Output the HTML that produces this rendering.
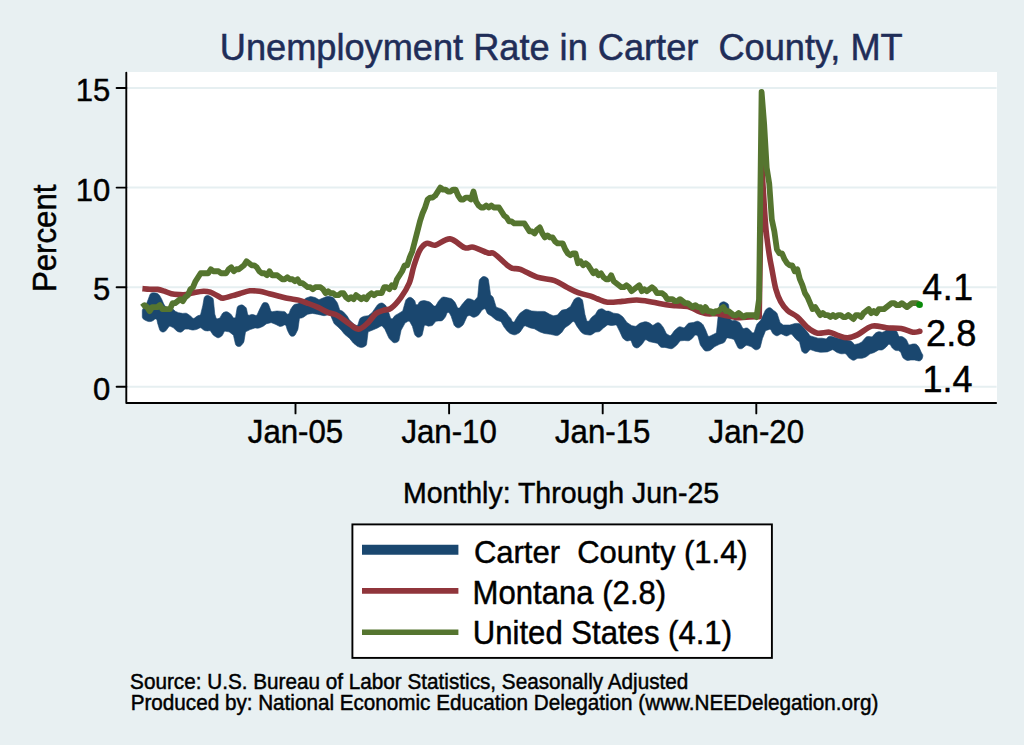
<!DOCTYPE html>
<html><head><meta charset="utf-8"><style>
html,body{margin:0;padding:0;background:#e8f0f2;overflow:hidden;}
svg{display:block;font-family:"Liberation Sans",sans-serif;}
</style></head><body>
<svg width="1024" height="745" viewBox="0 0 1024 745">
<rect x="0" y="0" width="1024" height="745" fill="#e8f0f2"/>
<rect x="126.5" y="72" width="870.5" height="331" fill="#fff"/>
<line x1="127" x2="996.6" y1="386.80" y2="386.80" stroke="#e6eff1" stroke-width="2"/>
<line x1="127" x2="996.6" y1="287.20" y2="287.20" stroke="#e6eff1" stroke-width="2"/>
<line x1="127" x2="996.6" y1="187.60" y2="187.60" stroke="#e6eff1" stroke-width="2"/>
<line x1="127" x2="996.6" y1="88.00" y2="88.00" stroke="#e6eff1" stroke-width="2"/>
<polygon fill="#1a476f" stroke="#1a476f" stroke-width="0.6" stroke-linejoin="round" points="143.11,308.59 143.03,308.70 142.57,309.46 142.47,309.71 142.31,310.58 142.30,310.72 142.30,316.69 142.31,316.82 142.46,317.66 142.55,317.90 142.94,318.58 143.11,318.78 143.76,319.32 143.87,319.40 145.67,320.43 145.70,320.44 145.91,320.55 145.94,320.56 147.53,321.29 147.68,321.34 148.78,321.58 148.94,321.60 149.92,321.60 150.05,321.59 150.92,321.44 151.05,321.41 152.64,320.84 152.84,320.74 154.05,319.84 154.21,319.69 154.32,319.54 154.74,319.16 155.28,318.96 155.86,318.98 156.38,319.21 156.78,319.63 156.99,320.16 157.47,322.62 157.47,322.66 157.54,322.94 157.55,322.98 159.58,329.57 159.63,329.68 159.98,330.39 160.12,330.59 160.69,331.15 160.78,331.23 161.20,331.52 161.33,331.60 162.25,332.00 162.54,332.06 163.46,332.06 163.75,332.00 164.67,331.60 164.80,331.52 165.61,330.95 165.71,330.86 166.36,330.20 166.44,330.10 168.62,326.91 169.11,326.45 169.76,326.25 170.42,326.36 172.92,327.39 173.41,327.71 176.51,330.81 176.65,330.92 177.73,331.57 177.90,331.65 179.32,332.08 179.44,332.11 180.27,332.21 180.52,332.20 181.27,332.04 181.50,331.94 182.21,331.50 182.31,331.42 184.47,329.48 184.94,329.20 185.47,329.10 188.59,329.10 189.00,329.16 191.95,329.99 192.12,330.02 193.29,330.07 193.46,330.06 196.10,329.59 196.21,329.56 196.95,329.31 197.05,329.27 199.64,327.94 200.19,327.78 200.75,327.84 201.26,328.10 203.63,329.99 203.81,330.09 205.17,330.65 205.38,330.70 207.46,330.91 207.64,330.91 208.91,330.73 209.03,330.69 209.65,330.66 210.23,330.87 210.67,331.31 212.82,334.53 212.91,334.64 213.66,335.38 213.78,335.48 216.47,337.23 216.59,337.30 217.43,337.64 217.70,337.70 218.53,337.72 218.80,337.67 219.65,337.36 219.77,337.30 221.26,336.40 221.42,336.27 222.42,335.20 222.54,335.02 224.00,332.09 224.40,331.60 224.96,331.31 225.59,331.28 228.92,331.84 229.60,332.13 232.98,334.77 233.32,335.15 233.52,335.62 235.43,343.98 235.49,344.15 236.01,345.19 236.24,345.45 237.19,346.13 237.34,346.22 237.70,346.36 237.85,346.40 238.85,346.58 239.16,346.56 240.06,346.34 240.34,346.20 241.13,345.57 241.25,345.47 243.21,343.11 243.32,342.94 243.89,341.68 243.95,341.49 245.38,332.66 245.65,332.01 246.19,331.56 250.16,329.57 250.25,329.53 250.35,329.49 250.45,329.45 254.78,328.01 255.44,327.94 257.43,328.19 257.62,328.19 258.93,328.02 259.12,327.97 262.77,326.48 262.86,326.43 263.48,326.07 263.57,326.01 266.15,324.00 266.71,323.72 270.72,322.72 271.19,322.68 271.65,322.79 276.00,324.56 276.07,324.59 276.13,324.62 276.20,324.65 278.95,326.10 279.09,326.15 279.98,326.42 280.27,326.45 281.20,326.36 281.34,326.33 282.45,326.00 282.56,325.95 283.30,325.59 283.50,325.44 283.60,325.33 284.12,324.99 284.73,324.88 285.33,325.03 285.82,325.41 286.11,325.96 287.32,330.02 287.34,330.08 287.51,330.51 287.53,330.57 289.54,334.59 289.63,334.72 290.29,335.54 290.54,335.74 291.40,336.16 291.71,336.24 292.76,336.26 292.92,336.25 293.17,336.20 293.33,336.15 294.34,335.70 294.60,335.49 295.31,334.65 295.40,334.50 297.65,329.99 297.70,329.88 297.95,329.07 297.98,328.96 299.34,319.34 299.57,318.73 300.03,318.27 300.64,318.06 301.83,317.91 302.01,317.86 303.24,317.37 303.41,317.28 307.31,314.41 307.95,314.14 312.15,313.44 312.65,313.44 317.12,314.19 317.17,314.20 317.23,314.21 317.28,314.22 320.43,314.98 320.45,314.99 320.55,315.01 320.57,315.01 323.70,315.64 323.88,315.65 325.11,315.60 325.29,315.58 328.83,314.56 329.36,314.51 329.89,314.65 330.32,314.97 330.62,315.42 333.88,323.05 333.97,323.20 334.71,324.19 334.83,324.32 338.12,327.03 338.17,327.08 338.22,327.13 338.28,327.18 341.31,330.21 341.37,330.27 341.42,330.33 341.48,330.40 344.38,334.02 344.43,334.08 344.82,334.47 344.88,334.53 349.38,338.20 349.60,338.42 353.27,342.92 353.33,342.98 353.72,343.37 353.78,343.42 357.08,346.06 357.18,346.13 357.90,346.54 358.00,346.59 359.87,347.29 360.05,347.33 361.39,347.46 361.58,347.46 362.69,347.28 362.80,347.26 363.56,347.01 363.66,346.97 364.91,346.35 365.01,346.28 365.66,345.82 365.83,345.64 366.25,345.04 366.36,344.83 366.58,344.06 366.61,343.94 367.99,332.78 368.15,332.27 368.47,331.85 368.92,331.57 372.06,330.32 372.07,330.31 372.13,330.29 372.14,330.28 377.51,327.98 377.55,327.96 377.84,327.82 377.88,327.79 380.68,326.16 381.18,325.97 381.71,325.97 382.21,326.16 382.61,326.51 384.88,329.35 385.08,329.67 388.75,337.76 388.82,337.87 389.33,338.62 389.42,338.72 392.45,341.82 392.55,341.91 393.29,342.42 393.54,342.54 394.34,342.73 394.61,342.75 395.50,342.63 395.64,342.60 396.99,342.16 397.11,342.11 397.86,341.71 398.06,341.55 398.58,340.97 398.72,340.75 399.03,339.97 399.07,339.84 401.05,330.52 401.21,330.11 404.90,323.36 405.46,322.79 407.88,321.37 408.44,321.18 409.03,321.22 409.56,321.48 409.95,321.93 412.31,326.14 412.45,326.48 414.53,334.12 414.62,334.32 415.42,335.60 415.56,335.77 416.43,336.53 416.55,336.61 417.37,337.09 417.65,337.18 418.52,337.29 418.81,337.27 419.73,337.02 419.87,336.97 420.65,336.58 420.79,336.49 421.62,335.81 421.82,335.55 422.27,334.58 422.33,334.42 424.11,326.36 424.39,325.77 424.89,325.35 425.52,325.19 426.16,325.31 427.60,325.92 427.70,325.95 428.41,326.13 428.63,326.16 429.35,326.12 429.46,326.11 431.34,325.73 431.47,325.69 432.27,325.38 432.49,325.24 433.14,324.67 433.23,324.57 435.36,321.84 435.75,321.49 436.25,321.29 438.05,320.93 438.35,320.90 440.77,320.90 440.94,320.88 441.99,320.64 442.29,320.50 443.13,319.83 443.25,319.71 445.16,317.32 445.23,317.22 445.64,316.50 445.69,316.40 446.78,313.49 447.07,313.01 447.52,312.67 448.06,312.52 448.62,312.58 449.12,312.85 449.49,313.27 451.03,315.97 451.15,316.24 453.96,324.78 454.01,324.89 454.38,325.59 454.52,325.78 455.09,326.33 455.19,326.41 456.56,327.34 456.70,327.42 457.62,327.80 457.92,327.86 458.84,327.84 459.14,327.77 460.05,327.34 460.18,327.26 462.51,325.52 462.64,325.39 463.46,324.37 463.56,324.21 466.93,316.70 467.29,316.20 467.82,315.89 468.95,315.52 469.58,315.45 470.19,315.64 472.24,316.85 472.35,316.90 473.10,317.19 473.35,317.23 474.08,317.26 474.33,317.23 475.09,316.99 475.21,316.95 477.70,315.70 477.86,315.59 478.87,314.70 479.00,314.56 481.56,310.71 481.90,310.35 483.46,309.17 483.95,308.92 484.49,308.87 485.01,309.01 485.45,309.33 485.75,309.78 487.00,312.74 487.05,312.85 487.46,313.50 487.61,313.67 488.20,314.17 488.29,314.24 491.30,316.04 491.49,316.17 495.70,319.69 495.82,319.77 496.68,320.24 496.81,320.30 500.54,321.52 501.03,321.79 501.39,322.21 504.16,327.16 504.20,327.21 504.44,327.57 504.47,327.62 507.29,331.14 507.34,331.19 507.70,331.56 507.76,331.61 509.51,333.09 509.62,333.17 510.48,333.65 510.61,333.70 513.57,334.69 513.71,334.72 514.64,334.84 514.93,334.82 515.83,334.58 515.97,334.53 518.88,333.10 519.05,332.99 520.07,332.09 520.20,331.94 523.81,326.54 524.17,326.16 524.63,325.93 525.14,325.87 525.65,325.99 529.77,327.76 529.84,327.79 530.38,327.95 530.45,327.97 533.96,328.65 534.41,328.82 539.51,331.73 539.58,331.77 540.05,331.98 540.12,332.01 544.31,333.40 544.37,333.42 544.84,333.53 544.91,333.54 550.21,334.29 550.27,334.30 550.33,334.31 550.39,334.32 556.04,335.58 556.20,335.59 557.26,335.59 557.58,335.52 558.54,335.06 558.68,334.98 561.17,333.03 561.26,332.95 561.83,332.34 561.90,332.25 564.64,328.14 565.04,327.74 569.36,324.76 569.41,324.73 569.76,324.44 569.81,324.40 572.30,321.96 572.76,321.66 573.29,321.54 573.83,321.62 574.31,321.88 574.66,322.30 576.81,326.14 576.83,326.17 576.98,326.42 577.01,326.45 580.61,331.50 580.68,331.58 581.21,332.13 581.29,332.20 583.26,333.73 583.44,333.83 584.73,334.36 584.93,334.41 585.65,334.49 585.68,334.50 585.72,334.50 585.75,334.51 589.38,335.10 589.52,335.11 590.42,335.09 590.68,335.03 591.51,334.69 591.63,334.63 595.19,332.30 595.86,332.06 598.44,331.81 598.56,331.78 599.32,331.58 599.53,331.48 600.19,331.05 600.28,330.98 603.43,328.06 603.48,328.02 603.53,327.98 603.57,327.94 607.06,325.22 607.63,324.95 608.27,324.93 610.99,325.48 611.13,325.49 612.07,325.51 612.21,325.50 615.30,324.98 615.93,325.01 616.50,325.30 616.89,325.80 619.59,331.27 619.60,331.29 619.60,331.31 619.61,331.33 622.52,337.67 622.62,337.84 623.50,338.89 623.65,339.02 625.64,340.42 625.79,340.50 626.80,340.91 627.12,340.96 628.21,340.89 628.37,340.86 629.55,340.50 630.11,340.45 630.65,340.60 631.10,340.94 631.39,341.42 632.86,345.40 632.92,345.53 633.40,346.32 633.59,346.53 634.32,347.08 634.45,347.16 635.50,347.67 635.64,347.72 636.57,347.97 636.86,347.98 637.74,347.85 638.02,347.76 638.84,347.26 638.96,347.17 641.89,344.49 641.95,344.42 642.38,343.92 642.43,343.84 644.62,340.50 645.01,340.09 645.53,339.86 646.10,339.83 646.63,340.02 649.01,341.41 649.12,341.47 649.93,341.78 650.05,341.81 656.95,343.19 657.45,343.39 657.84,343.74 659.75,346.18 659.87,346.30 660.72,346.99 661.01,347.13 662.08,347.38 662.25,347.40 664.64,347.40 664.96,347.43 670.58,348.67 670.75,348.68 671.85,348.67 672.17,348.59 673.15,348.10 673.29,348.01 676.62,345.23 676.68,345.18 677.07,344.78 677.12,344.72 679.70,341.41 680.16,341.02 680.74,340.84 684.06,340.51 684.34,340.51 687.80,340.80 687.93,340.80 688.81,340.71 689.06,340.64 689.85,340.25 689.97,340.17 691.88,338.74 691.95,338.68 692.40,338.25 692.46,338.19 694.64,335.54 695.06,335.19 695.58,335.02 696.12,335.04 696.63,335.25 697.43,335.79 697.82,336.16 698.05,336.64 700.13,344.37 700.18,344.51 700.62,345.40 700.69,345.52 703.97,349.89 704.06,349.99 704.71,350.59 704.93,350.73 705.68,351.03 705.95,351.09 706.83,351.11 706.96,351.10 709.09,350.75 709.28,350.69 710.54,350.12 710.71,350.01 714.67,346.71 714.96,346.52 719.47,344.27 719.56,344.22 719.65,344.19 719.74,344.15 723.28,342.92 723.41,342.86 724.22,342.39 724.43,342.21 725.00,341.47 725.08,341.34 726.39,338.72 726.80,338.22 727.38,337.94 728.02,337.92 730.77,338.47 730.86,338.49 730.94,338.52 731.02,338.54 733.39,339.30 733.91,339.60 734.28,340.08 737.58,347.00 737.66,347.14 738.29,347.95 738.53,348.15 739.44,348.63 739.59,348.69 739.79,348.75 739.97,348.77 741.13,348.81 741.48,348.74 742.53,348.22 742.68,348.13 745.66,345.64 746.10,345.38 746.59,345.29 747.09,345.36 750.86,346.62 751.30,346.85 754.34,349.20 754.46,349.27 755.27,349.68 755.54,349.76 756.37,349.84 756.65,349.81 757.52,349.55 757.66,349.50 758.72,348.96 758.85,348.87 759.65,348.22 759.84,347.97 760.30,347.05 760.35,346.90 762.36,338.84 762.39,338.75 762.42,338.66 762.45,338.56 765.34,331.26 765.71,330.71 766.27,330.38 769.27,329.40 769.80,329.33 770.31,329.44 770.76,329.73 771.08,330.16 772.48,332.95 772.59,333.12 773.55,334.17 773.70,334.30 775.25,335.27 775.38,335.33 776.21,335.66 776.48,335.71 777.32,335.71 777.59,335.66 778.42,335.33 778.55,335.27 780.23,334.22 780.91,334.00 781.63,334.12 785.21,335.69 785.37,335.74 786.42,335.94 786.75,335.93 787.79,335.66 787.95,335.60 790.33,334.36 790.98,334.19 791.64,334.32 792.17,334.72 795.94,339.19 796.00,339.25 796.46,339.68 796.53,339.74 799.06,341.58 799.42,341.95 799.63,342.43 801.61,350.44 801.66,350.57 802.01,351.36 802.16,351.58 802.77,352.20 802.88,352.28 803.59,352.78 803.71,352.85 804.53,353.22 804.79,353.29 805.62,353.33 805.89,353.29 806.68,353.04 806.92,352.90 807.61,352.33 807.71,352.24 809.34,350.28 809.81,349.91 810.38,349.75 810.97,349.82 814.62,351.04 814.66,351.05 814.95,351.13 814.99,351.14 820.06,352.21 820.16,352.22 820.85,352.27 820.95,352.28 827.02,351.94 827.17,351.91 828.17,351.65 828.31,351.60 831.83,349.88 832.32,349.74 832.84,349.77 833.32,349.98 836.98,352.42 837.08,352.48 837.78,352.81 837.88,352.84 840.76,353.71 840.91,353.74 841.92,353.84 842.06,353.84 844.71,353.58 845.43,353.68 846.01,354.11 849.15,357.89 849.24,357.97 849.86,358.52 849.96,358.59 851.85,359.77 851.98,359.83 852.81,360.16 853.08,360.21 853.92,360.21 854.19,360.16 855.02,359.83 855.15,359.77 857.14,358.53 857.93,358.30 861.75,358.30 861.89,358.29 862.87,358.10 863.00,358.06 865.96,356.88 866.05,356.83 866.69,356.47 866.78,356.41 869.79,354.06 870.25,353.82 873.67,352.71 873.74,352.68 874.23,352.46 874.30,352.43 878.29,350.14 878.72,349.97 879.17,349.94 880.89,350.09 881.02,350.09 881.90,350.01 882.16,349.93 882.96,349.54 883.07,349.47 885.80,347.43 885.86,347.37 886.29,346.97 886.34,346.91 888.09,344.85 888.55,344.49 889.10,344.33 889.67,344.39 890.18,344.66 890.55,345.10 891.77,347.31 891.86,347.43 892.52,348.22 892.63,348.32 894.63,349.91 894.74,349.98 895.45,350.37 895.68,350.45 896.48,350.59 896.61,350.60 898.28,350.60 898.85,350.71 899.34,351.04 900.67,352.37 901.01,352.91 902.53,357.01 902.58,357.12 902.97,357.80 903.11,357.98 903.69,358.50 903.78,358.57 905.89,359.94 906.01,360.01 906.82,360.34 907.08,360.40 907.96,360.43 908.09,360.42 910.79,360.02 911.01,360.00 914.14,360.00 914.46,360.04 916.98,360.60 917.01,360.60 918.34,360.89 918.49,360.90 919.41,360.92 919.68,360.87 920.48,360.57 920.72,360.42 921.39,359.80 921.49,359.69 921.86,359.19 921.94,359.05 922.40,358.03 922.45,357.88 922.77,356.38 922.79,356.25 922.82,355.45 922.79,355.21 922.58,354.50 922.47,354.28 922.01,353.62 921.93,353.53 921.90,353.50 921.59,353.04 919.18,347.62 919.14,347.53 918.77,346.93 918.71,346.85 917.25,345.06 917.13,344.95 916.29,344.29 916.00,344.15 914.96,343.92 914.80,343.90 913.52,343.90 913.41,343.91 912.61,344.03 912.50,344.06 910.17,344.80 909.63,344.86 909.11,344.74 908.66,344.43 908.35,343.98 906.59,340.07 906.48,339.90 905.56,338.80 905.41,338.66 903.01,337.04 902.91,336.99 902.26,336.68 902.05,336.61 901.34,336.51 901.23,336.50 899.93,336.50 899.34,336.38 898.85,336.05 898.53,335.54 897.12,331.93 897.03,331.76 896.25,330.68 896.11,330.54 893.61,328.49 893.41,328.30 892.66,327.41 892.56,327.31 891.88,326.76 891.64,326.63 890.87,326.37 890.60,326.33 889.78,326.37 889.52,326.43 888.77,326.76 888.55,326.91 887.92,327.53 887.83,327.63 885.66,330.73 884.98,331.27 882.58,332.21 882.10,332.31 881.61,332.25 879.92,331.76 879.78,331.73 878.86,331.64 878.58,331.67 877.70,331.93 877.57,331.98 875.99,332.79 875.87,332.87 875.07,333.51 874.97,333.61 872.63,336.35 872.19,336.71 871.63,336.87 871.06,336.82 870.52,336.66 870.40,336.63 869.58,336.52 869.46,336.52 867.81,336.56 867.65,336.58 866.67,336.82 866.40,336.95 865.60,337.56 865.48,337.67 861.80,341.96 861.32,342.34 858.47,343.72 858.11,343.84 855.23,344.41 854.67,344.42 854.15,344.22 853.73,343.84 852.54,342.26 852.46,342.17 851.89,341.62 851.70,341.48 850.98,341.15 850.87,341.11 846.44,339.84 846.41,339.83 846.19,339.78 846.16,339.77 838.28,338.21 838.23,338.20 838.18,338.19 838.13,338.18 831.04,336.27 830.91,336.25 830.07,336.17 829.81,336.19 829.05,336.39 828.82,336.50 828.13,336.99 828.03,337.07 826.67,338.43 826.27,338.72 825.80,338.86 825.31,338.84 822.43,338.27 822.35,338.25 821.84,338.20 821.77,338.20 818.32,338.20 817.89,338.14 810.51,335.95 810.05,335.73 809.70,335.37 807.58,332.32 807.57,332.30 807.43,332.11 807.41,332.09 803.60,327.52 803.58,327.49 803.42,327.32 803.39,327.29 800.43,324.33 800.32,324.24 799.53,323.71 799.26,323.60 798.33,323.41 798.18,323.40 795.87,323.40 795.77,323.41 795.05,323.51 794.95,323.53 790.00,324.94 789.59,325.00 783.80,325.00 783.33,324.92 782.90,324.70 780.48,322.88 780.16,322.56 779.95,322.15 777.21,313.85 777.17,313.74 776.83,313.09 776.70,312.90 776.19,312.38 776.10,312.30 773.78,310.56 773.73,310.52 773.68,310.48 773.62,310.43 771.47,308.48 771.33,308.39 770.37,307.86 770.05,307.76 769.05,307.71 768.72,307.77 767.71,308.19 767.56,308.28 766.31,309.18 766.17,309.31 765.33,310.34 765.23,310.50 760.91,319.87 760.62,320.28 757.36,323.63 757.25,323.77 756.63,324.80 756.56,324.96 754.38,331.82 754.13,332.30 753.71,332.66 753.20,332.85 752.66,332.84 752.15,332.64 751.75,332.27 751.24,331.59 751.21,331.55 750.97,331.27 750.93,331.23 748.55,328.85 748.44,328.76 747.66,328.23 747.39,328.12 746.55,327.95 746.26,327.95 745.33,328.12 745.20,328.16 744.37,328.49 743.83,328.60 743.28,328.51 742.81,328.22 742.48,327.79 740.26,323.50 740.20,323.40 739.76,322.80 739.60,322.64 739.00,322.19 738.90,322.13 736.11,320.68 735.98,320.63 735.11,320.37 734.84,320.34 733.93,320.41 733.79,320.44 733.16,320.61 732.52,320.65 731.93,320.42 730.69,319.59 730.23,319.12 730.03,318.50 728.67,305.57 728.65,305.44 728.44,304.68 728.34,304.45 727.92,303.85 727.76,303.67 727.12,303.19 727.02,303.13 725.01,302.08 724.86,302.03 723.85,301.75 723.52,301.74 722.49,301.92 722.33,301.97 721.30,302.40 721.18,302.46 720.46,302.92 720.26,303.10 719.79,303.74 719.67,303.97 719.42,304.80 719.40,304.93 718.00,317.59 718.00,317.61 716.49,332.08 716.35,332.56 716.07,332.97 715.66,333.27 713.22,334.49 713.21,334.50 709.78,336.17 709.18,336.32 708.57,336.22 708.05,335.88 707.72,335.35 705.96,330.66 705.94,330.62 705.84,330.38 705.83,330.35 703.10,324.81 702.99,324.65 702.09,323.63 701.95,323.50 699.27,321.72 699.11,321.64 698.03,321.24 697.68,321.20 696.53,321.36 696.36,321.40 693.96,322.34 693.63,322.42 689.41,323.03 689.28,323.06 688.44,323.34 688.20,323.48 687.51,324.04 687.42,324.14 684.85,327.22 684.39,327.59 683.82,327.75 683.23,327.68 680.96,326.94 680.84,326.91 680.02,326.79 679.77,326.80 679.02,326.95 678.78,327.04 678.08,327.46 677.97,327.53 674.81,330.23 674.75,330.30 674.32,330.77 674.26,330.84 671.30,334.99 670.90,335.37 670.39,335.58 669.84,335.59 669.32,335.41 666.79,333.93 666.20,333.30 663.36,327.53 663.32,327.46 663.02,326.98 662.97,326.91 660.63,323.99 660.48,323.84 659.23,322.99 659.03,322.89 658.96,322.87 658.79,322.83 657.71,322.74 657.39,322.79 656.38,323.17 656.23,323.25 653.66,324.96 653.05,325.20 652.40,325.16 651.84,324.84 650.06,323.29 649.93,323.20 648.94,322.65 648.79,322.59 646.33,321.87 646.13,321.84 644.67,321.84 644.46,321.87 640.45,323.01 640.31,323.07 639.40,323.54 639.27,323.62 636.34,325.97 635.76,326.25 635.12,326.27 631.99,325.66 631.45,325.43 627.13,322.55 626.74,322.18 623.23,317.26 623.15,317.17 622.53,316.55 622.43,316.47 619.46,314.37 619.31,314.29 618.17,313.83 618.00,313.79 613.44,313.13 612.98,312.99 609.91,311.46 609.75,311.40 608.58,311.12 608.40,311.10 606.46,311.10 606.02,311.03 605.62,310.84 603.30,309.25 603.13,309.17 602.03,308.76 601.67,308.72 600.51,308.88 600.33,308.93 598.96,309.47 598.85,309.53 598.14,309.97 597.94,310.14 597.42,310.80 597.35,310.90 595.64,314.04 595.27,314.49 591.76,317.31 591.69,317.38 591.20,317.90 591.13,317.98 589.23,320.64 588.82,321.03 588.30,321.24 587.74,321.25 587.22,321.05 586.81,320.68 586.56,320.17 584.93,314.32 584.91,314.24 584.90,314.16 584.88,314.08 582.71,300.99 582.68,300.85 582.34,299.97 582.19,299.72 581.55,299.03 581.44,298.93 580.06,297.93 579.94,297.86 579.13,297.48 578.87,297.41 578.05,297.35 577.77,297.38 576.92,297.64 576.79,297.70 575.36,298.45 575.27,298.51 574.69,298.93 574.53,299.09 574.10,299.66 574.04,299.76 570.57,306.19 570.11,306.70 566.68,309.11 566.06,309.36 562.76,309.91 562.63,309.94 561.82,310.23 561.60,310.36 560.94,310.91 560.84,311.00 557.84,314.60 557.45,314.92 556.98,315.10 553.94,315.71 553.09,315.63 549.64,314.26 549.55,314.22 549.46,314.17 549.36,314.12 545.38,311.84 545.20,311.77 543.90,311.43 543.71,311.40 537.48,311.40 537.43,311.40 537.37,311.40 537.32,311.39 532.01,311.02 531.60,310.93 527.66,309.48 527.49,309.43 526.33,309.30 525.98,309.35 524.90,309.77 524.74,309.86 520.20,313.05 520.09,313.14 519.44,313.80 519.36,313.90 516.48,318.08 516.46,318.11 516.35,318.30 516.33,318.32 514.67,321.23 514.32,321.65 513.83,321.91 513.29,321.98 512.76,321.85 512.31,321.54 512.00,321.09 510.88,318.58 510.80,318.45 510.22,317.64 510.00,317.44 509.39,317.08 508.91,316.62 506.26,312.64 506.17,312.53 505.47,311.82 505.37,311.73 501.50,309.08 501.41,309.02 500.74,308.69 500.64,308.65 496.94,307.44 496.34,307.07 495.97,306.46 493.32,297.83 493.27,297.72 492.92,297.01 492.78,296.81 492.21,296.25 492.12,296.17 491.13,295.47 490.71,295.03 490.51,294.46 488.44,279.86 488.39,279.69 487.95,278.60 487.74,278.31 486.84,277.56 486.69,277.46 485.29,276.78 485.15,276.72 484.18,276.48 483.88,276.47 482.97,276.62 482.69,276.73 481.85,277.27 481.73,277.37 480.11,278.99 480.03,279.09 479.55,279.77 479.44,280.01 479.22,280.81 479.19,280.94 477.74,296.35 477.42,297.15 475.26,299.85 474.73,300.27 474.07,300.42 473.42,300.26 471.71,299.41 471.62,299.37 470.95,299.14 470.85,299.11 468.98,298.75 468.85,298.73 468.00,298.72 467.74,298.76 467.00,299.02 466.77,299.15 466.11,299.68 466.02,299.78 462.50,303.89 462.48,303.91 462.33,304.09 462.31,304.12 459.91,307.49 459.45,307.91 458.86,308.11 458.24,308.05 457.69,307.75 457.32,307.25 455.31,302.86 455.26,302.76 454.83,302.11 454.76,302.02 452.55,299.53 452.47,299.46 451.91,298.99 451.72,298.88 451.05,298.60 450.95,298.56 447.23,297.63 447.20,297.63 447.00,297.58 446.97,297.58 444.04,297.09 443.91,297.08 443.08,297.08 442.83,297.13 442.11,297.39 441.89,297.52 441.25,298.05 441.16,298.14 438.41,301.36 438.36,301.41 438.08,301.82 438.04,301.88 436.05,305.37 435.69,305.79 435.21,306.05 434.67,306.12 434.14,305.99 433.68,305.68 430.72,302.72 430.57,302.60 429.43,301.93 429.26,301.86 425.22,300.71 425.06,300.68 423.92,300.61 423.76,300.62 421.20,301.04 421.03,301.09 419.98,301.53 419.70,301.73 418.97,302.60 418.87,302.75 418.29,303.92 417.91,304.40 417.37,304.69 416.76,304.74 416.19,304.54 415.73,304.13 415.48,303.58 415.03,301.54 415.00,301.42 414.71,300.70 414.58,300.49 414.08,299.89 413.99,299.81 411.94,298.06 411.84,297.98 411.11,297.56 410.87,297.47 410.11,297.32 409.86,297.32 409.10,297.44 408.85,297.52 408.12,297.93 408.01,298.00 406.69,299.06 406.61,299.14 406.10,299.70 405.98,299.89 405.66,300.57 405.62,300.68 402.86,310.43 402.61,310.93 402.19,311.31 398.71,313.39 398.70,313.40 398.70,313.40 398.69,313.41 395.27,315.41 395.14,315.51 394.28,316.32 394.17,316.45 393.10,318.05 392.71,318.44 392.21,318.67 391.65,318.70 391.13,318.53 390.70,318.18 390.43,317.69 389.03,313.49 389.02,313.47 388.97,313.33 388.97,313.31 386.17,306.24 386.06,306.05 385.13,304.87 384.97,304.72 383.30,303.55 383.19,303.49 382.41,303.12 382.15,303.06 381.36,303.00 381.10,303.02 380.28,303.26 380.15,303.30 378.49,304.11 378.33,304.22 377.33,305.08 377.20,305.23 372.23,312.42 371.93,312.74 368.45,315.52 367.66,315.84 364.60,316.14 364.47,316.17 363.58,316.42 363.45,316.47 361.16,317.59 361.02,317.67 360.23,318.28 360.04,318.52 359.56,319.40 359.50,319.54 358.06,324.41 357.81,324.90 357.40,325.26 356.89,325.46 356.34,325.46 355.83,325.25 353.64,323.89 353.38,323.68 349.62,319.92 349.41,319.66 347.16,316.06 347.12,316.00 346.84,315.63 346.80,315.58 343.52,311.97 343.39,311.86 342.44,311.19 342.29,311.11 340.44,310.36 339.91,310.00 339.58,309.44 337.57,303.40 337.52,303.29 337.15,302.57 337.09,302.47 334.00,298.25 333.91,298.15 333.29,297.56 333.07,297.41 332.28,297.07 332.15,297.03 328.73,296.24 328.61,296.22 327.83,296.17 327.60,296.19 326.85,296.38 326.73,296.42 322.94,298.08 322.91,298.09 322.89,298.11 322.86,298.12 319.50,299.43 318.82,299.52 318.16,299.30 316.02,297.96 315.93,297.91 315.22,297.61 315.12,297.57 311.75,296.66 311.64,296.64 310.92,296.55 310.69,296.56 309.98,296.69 309.87,296.72 306.48,297.90 306.36,297.95 305.54,298.42 305.43,298.49 301.23,301.99 300.94,302.18 298.08,303.61 297.70,303.74 295.16,304.25 295.03,304.29 294.16,304.64 293.93,304.80 293.26,305.45 293.17,305.56 290.84,308.95 290.79,309.03 290.49,309.61 290.45,309.70 289.17,313.17 288.82,313.71 288.28,314.06 287.65,314.15 287.03,313.96 286.55,313.53 285.95,312.71 285.83,312.58 284.97,311.84 284.66,311.69 283.56,311.42 283.38,311.40 282.58,311.40 282.53,311.40 282.47,311.40 282.42,311.39 277.26,311.03 277.18,311.02 276.63,311.04 276.55,311.05 272.41,311.63 271.73,311.57 271.15,311.22 270.79,310.65 268.62,304.62 268.56,304.50 268.14,303.76 267.97,303.56 267.36,303.05 267.13,302.92 266.33,302.63 266.20,302.60 265.46,302.48 265.31,302.47 264.28,302.52 263.98,302.60 263.14,303.02 262.90,303.22 262.26,304.02 262.17,304.15 259.24,310.02 259.23,310.04 259.17,310.16 259.17,310.18 257.25,314.55 256.94,315.00 256.48,315.32 255.95,315.44 255.40,315.37 253.01,314.57 252.88,314.54 252.04,314.41 251.78,314.42 250.94,314.59 250.82,314.63 249.58,315.13 248.93,315.23 248.31,315.05 247.81,314.62 247.55,314.03 246.53,308.86 246.49,308.73 246.18,307.93 246.04,307.71 245.46,307.06 245.37,306.97 243.52,305.53 243.41,305.46 242.72,305.08 242.49,305.00 241.76,304.88 241.52,304.87 240.73,305.00 240.62,305.03 239.18,305.51 239.06,305.56 238.29,305.98 238.08,306.15 237.56,306.77 237.42,307.00 237.13,307.82 237.09,307.95 235.65,316.68 235.43,317.24 235.02,317.68 234.46,317.91 233.86,317.91 233.31,317.67 232.90,317.23 231.37,314.80 231.28,314.68 230.53,313.90 230.42,313.80 228.15,312.25 228.00,312.18 227.01,311.78 226.68,311.73 225.61,311.81 225.45,311.84 224.12,312.24 223.98,312.29 223.17,312.71 222.95,312.89 222.35,313.59 222.27,313.70 220.02,317.64 219.62,318.09 219.07,318.35 217.74,318.68 217.19,318.70 216.66,318.53 216.23,318.18 215.96,317.69 214.85,314.36 214.78,314.03 213.36,299.76 213.34,299.64 213.14,298.87 213.04,298.65 212.63,298.04 212.46,297.87 211.83,297.38 211.73,297.32 210.11,296.46 209.90,296.32 209.60,296.09 209.45,296.00 208.40,295.54 208.06,295.48 206.91,295.55 206.74,295.58 206.23,295.74 206.10,295.79 205.31,296.20 205.10,296.37 204.56,296.99 204.42,297.22 204.11,298.05 204.08,298.18 202.81,305.52 202.80,305.57 202.79,305.63 202.78,305.68 200.71,314.13 200.49,314.62 200.12,315.00 199.63,315.22 198.09,315.62 197.95,315.68 196.97,316.16 196.84,316.25 194.53,318.08 194.06,318.33 193.52,318.40 193.00,318.28 192.55,317.98 190.50,315.99 190.45,315.95 190.12,315.68 190.07,315.64 187.33,313.74 187.22,313.68 186.47,313.33 186.22,313.27 185.40,313.19 185.27,313.19 182.69,313.39 182.31,313.37 178.74,312.73 178.47,312.65 175.81,311.62 175.27,311.26 174.04,309.98 173.94,309.89 173.22,309.37 172.98,309.26 172.12,309.03 171.99,309.01 169.65,308.83 169.00,308.62 165.60,306.58 165.11,306.11 163.87,304.20 163.75,303.99 161.48,298.79 161.46,298.75 161.32,298.46 161.30,298.42 159.47,295.33 159.38,295.21 158.62,294.38 158.50,294.28 157.48,293.57 157.32,293.49 156.15,293.04 155.98,293.00 154.03,292.75 153.93,292.75 153.27,292.75 153.18,292.75 152.38,292.86 152.24,292.89 151.40,293.16 151.17,293.28 150.53,293.79 150.36,293.99 149.91,294.75 149.85,294.88 148.21,299.38 148.20,299.39 148.20,299.41 148.19,299.42 145.90,305.34 145.62,305.80 143.11,308.59"/>
<path fill="none" stroke="#90353b" stroke-width="5.6" stroke-linejoin="round" stroke-linecap="butt" d="M142.40,288.60 C143.63,288.72 147.27,289.17 149.80,289.30 C152.33,289.43 155.17,289.08 157.60,289.40 C160.03,289.72 162.12,290.48 164.40,291.20 C166.68,291.92 168.85,293.13 171.30,293.70 C173.75,294.27 176.67,294.45 179.10,294.60 C181.53,294.75 183.47,294.92 185.90,294.60 C188.33,294.28 190.77,293.27 193.70,292.70 C196.63,292.13 200.73,291.28 203.50,291.20 C206.27,291.12 207.87,291.38 210.30,292.20 C212.73,293.02 215.98,295.12 218.10,296.10 C220.22,297.08 220.55,298.18 223.00,298.10 C225.45,298.02 229.97,296.37 232.80,295.60 C235.63,294.83 237.17,294.30 240.00,293.50 C242.83,292.70 246.55,291.17 249.80,290.80 C253.05,290.43 256.25,290.82 259.50,291.30 C262.75,291.78 266.03,292.88 269.30,293.70 C272.57,294.52 275.85,295.38 279.10,296.20 C282.35,297.02 285.55,297.95 288.80,298.60 C292.05,299.25 295.33,299.28 298.60,300.10 C301.87,300.92 305.15,302.28 308.40,303.50 C311.65,304.72 314.85,305.93 318.10,307.40 C321.35,308.87 324.63,310.93 327.90,312.30 C331.17,313.67 333.98,313.57 337.70,315.60 C341.42,317.63 346.68,322.25 350.20,324.50 C353.72,326.75 355.93,329.28 358.80,329.10 C361.67,328.92 364.53,326.00 367.40,323.40 C370.27,320.80 373.13,315.73 376.00,313.50 C378.87,311.27 382.10,310.87 384.60,310.00 C387.10,309.13 388.27,310.42 391.00,308.30 C393.73,306.18 397.95,301.52 401.00,297.30 C404.05,293.08 407.15,288.22 409.30,283.00 C411.45,277.78 412.17,271.43 413.90,266.00 C415.63,260.57 417.58,254.18 419.70,250.40 C421.82,246.62 424.00,244.17 426.60,243.30 C429.20,242.43 431.40,245.93 435.30,245.20 C439.20,244.47 445.12,238.48 450.00,238.90 C454.88,239.32 460.70,246.32 464.60,247.70 C468.50,249.08 469.48,246.32 473.40,247.20 C477.32,248.08 484.68,251.95 488.10,253.00 C491.52,254.05 490.65,251.42 493.90,253.50 C497.15,255.58 504.48,263.02 507.60,265.50 C510.72,267.98 510.45,267.75 512.60,268.40 C514.75,269.05 516.42,267.93 520.50,269.40 C524.58,270.87 531.42,275.33 537.10,277.20 C542.78,279.07 549.72,278.98 554.60,280.60 C559.48,282.22 562.48,284.90 566.40,286.90 C570.32,288.90 574.03,291.05 578.10,292.60 C582.17,294.15 587.52,295.13 590.80,296.20 C594.08,297.27 595.02,298.00 597.80,299.00 C600.58,300.00 603.43,301.80 607.50,302.20 C611.57,302.60 617.32,301.77 622.20,301.40 C627.08,301.03 631.92,299.92 636.80,300.00 C641.68,300.08 646.62,301.10 651.50,301.90 C656.38,302.70 662.03,304.15 666.10,304.80 C670.17,305.45 672.28,305.53 675.90,305.80 C679.52,306.07 684.20,305.57 687.80,306.40 C691.40,307.23 694.25,309.58 697.50,310.80 C700.75,312.02 704.03,313.22 707.30,313.70 C710.57,314.18 713.85,313.37 717.10,313.70 C720.35,314.03 723.55,315.05 726.80,315.70 C730.05,316.35 733.33,317.37 736.60,317.60 C739.87,317.83 743.15,317.25 746.40,317.10 C749.65,316.95 753.97,316.77 756.10,316.70 C758.23,316.63 758.68,316.70 759.20,316.70 L761.65,163.00 C762.08,170.00 763.46,193.75 764.20,205.00 C764.94,216.25 765.25,222.17 766.10,230.50 C766.95,238.83 768.28,248.30 769.30,255.00 C770.32,261.70 771.12,265.03 772.20,270.70 C773.28,276.37 774.38,283.83 775.80,289.00 C777.22,294.17 778.75,298.12 780.70,301.70 C782.65,305.28 784.73,307.97 787.50,310.50 C790.27,313.03 794.03,314.13 797.30,316.90 C800.57,319.67 803.85,324.42 807.10,327.10 C810.35,329.78 813.07,332.15 816.80,333.00 C820.53,333.85 826.00,331.80 829.50,332.20 C833.00,332.60 834.80,334.47 837.80,335.40 C840.80,336.33 844.25,337.88 847.50,337.80 C850.75,337.72 853.22,336.85 857.30,334.90 C861.38,332.95 867.12,327.28 872.00,326.10 C876.88,324.92 881.73,327.40 886.60,327.80 C891.47,328.20 896.80,327.77 901.20,328.50 C905.60,329.23 909.90,331.73 913.00,332.20 C916.10,332.67 918.67,331.45 919.80,331.30"/>
<circle cx="919.8" cy="331.3" r="2.8" fill="#90353b"/>
<polyline fill="none" stroke="#55752f" stroke-width="5.8" stroke-linejoin="round" stroke-linecap="butt" points="142.00,307.12 144.55,305.13 147.10,307.12 149.65,311.10 152.20,307.12 154.75,307.12 157.30,307.12 159.85,305.13 162.40,309.11 164.95,309.11 167.50,309.11 170.05,309.11 172.60,303.14 175.15,303.14 177.70,301.14 180.25,299.15 182.80,301.14 185.35,297.16 187.90,295.17 190.45,289.19 193.00,287.20 195.55,281.22 198.10,277.24 200.65,273.26 203.20,273.26 205.75,273.26 208.29,273.26 210.84,269.27 213.39,271.26 215.94,271.26 218.49,271.26 221.04,273.26 223.59,273.26 226.14,273.26 228.69,269.27 231.24,267.28 233.79,271.26 236.34,269.27 238.89,269.27 241.44,267.28 243.99,265.29 246.54,261.30 249.09,263.30 251.64,265.29 254.19,265.29 256.74,267.28 259.29,271.26 261.84,273.26 264.39,273.26 266.94,275.25 269.49,271.26 272.04,275.25 274.59,275.25 277.14,275.25 279.69,277.24 282.24,279.23 284.79,279.23 287.34,277.24 289.89,279.23 292.44,279.23 294.99,281.22 297.54,279.23 300.09,283.22 302.64,283.22 305.19,285.21 307.74,287.20 310.29,287.20 312.84,289.19 315.39,287.20 317.94,287.20 320.49,287.20 323.04,289.19 325.59,293.18 328.14,291.18 330.69,293.18 333.24,293.18 335.78,295.17 338.33,295.17 340.88,293.18 343.43,293.18 345.98,297.16 348.53,299.15 351.08,297.16 353.63,299.15 356.18,295.17 358.73,297.16 361.28,299.15 363.83,297.16 366.38,299.15 368.93,295.17 371.48,293.18 374.03,295.17 376.58,293.18 379.13,293.18 381.68,293.18 384.23,287.20 386.78,287.20 389.33,289.19 391.88,285.21 394.43,287.20 396.98,279.23 399.53,275.25 402.08,271.26 404.63,265.29 407.18,265.29 409.73,257.32 412.28,251.34 414.83,241.38 417.38,231.42 419.93,221.46 422.48,213.50 425.03,207.52 427.58,199.55 430.13,197.56 432.68,197.56 435.23,195.57 437.78,191.58 440.33,187.60 442.88,189.59 445.43,189.59 447.98,191.58 450.53,191.58 453.08,189.59 455.63,189.59 458.18,195.57 460.72,199.55 463.27,199.55 465.82,197.56 468.37,197.56 470.92,199.55 473.47,191.58 476.02,201.54 478.57,205.53 481.12,207.52 483.67,207.52 486.22,205.53 488.77,207.52 491.32,205.53 493.87,207.52 496.42,207.52 498.97,207.52 501.52,211.50 504.07,215.49 506.62,217.48 509.17,221.46 511.72,221.46 514.27,223.46 516.82,223.46 519.37,223.46 521.92,223.46 524.47,223.46 527.02,227.44 529.57,231.42 532.12,231.42 534.67,233.42 537.22,229.43 539.77,227.44 542.32,233.42 544.87,237.40 547.42,235.41 549.97,237.40 552.52,237.40 555.07,241.38 557.62,243.38 560.17,243.38 562.72,243.38 565.27,249.35 567.82,253.34 570.37,255.33 572.92,253.34 575.47,253.34 578.02,263.30 580.57,261.30 583.12,265.29 585.67,263.30 588.21,265.29 590.76,269.27 593.31,273.26 595.86,271.26 598.41,275.25 600.96,273.26 603.51,277.24 606.06,279.23 608.61,279.23 611.16,275.25 613.71,281.22 616.26,283.22 618.81,285.21 621.36,287.20 623.91,287.20 626.46,285.21 629.01,287.20 631.56,291.18 634.11,289.19 636.66,287.20 639.21,285.21 641.76,291.18 644.31,289.19 646.86,291.18 649.41,289.19 651.96,287.20 654.51,289.19 657.06,293.18 659.61,293.18 662.16,293.18 664.71,295.17 667.26,299.15 669.81,299.15 672.36,299.15 674.91,301.14 677.46,301.14 680.01,299.15 682.56,301.14 685.11,303.14 687.66,303.14 690.21,305.13 692.76,307.12 695.31,305.13 697.86,307.12 700.41,307.12 702.96,311.10 705.51,307.12 708.06,311.10 710.61,311.10 713.16,313.10 715.70,311.10 718.25,311.10 720.80,309.11 723.35,307.12 725.90,311.10 728.45,311.10 731.00,313.10 733.55,315.09 736.10,315.09 738.65,313.10 741.20,315.09 743.75,317.08 746.30,315.09 748.85,315.09 751.40,315.09 753.95,315.09 756.50,317.08 759.05,299.15 761.60,91.98 764.15,123.86 766.70,167.68 769.25,183.62 771.80,219.47 774.35,231.42 776.90,249.35 779.45,253.34 782.00,253.34 784.55,259.31 787.10,263.30 789.65,265.29 792.20,265.29 794.75,271.26 797.30,269.27 799.85,279.23 802.40,285.21 804.95,293.18 807.50,297.16 810.05,303.14 812.60,309.11 815.15,307.12 817.70,311.10 820.25,315.09 822.80,313.10 825.35,315.09 827.90,315.09 830.45,317.08 833.00,315.09 835.55,317.08 838.10,315.09 840.65,315.09 843.19,317.08 845.74,317.08 848.29,315.09 850.84,317.08 853.39,319.07 855.94,315.09 858.49,315.09 861.04,317.08 863.59,313.10 866.14,311.10 868.69,309.11 871.24,313.10 873.79,311.10 876.34,313.10 878.89,309.11 881.44,309.11 883.99,309.11 886.54,307.12 889.09,305.13 891.64,303.14 894.19,303.14 896.74,305.13 899.29,305.13 901.84,303.14 904.39,305.13 906.94,307.12 909.49,305.13 912.04,303.14 914.59,303.14 917.14,303.14 919.69,305.13"/>
<circle cx="919.6" cy="304.8" r="3.3" fill="#0a8a0a"/>
<path d="M126.3,72.6 V403.05 H996.1" fill="none" stroke="#000" stroke-width="1.9" stroke-linejoin="round" stroke-linecap="round"/>
<line x1="116.6" x2="126.3" y1="386.80" y2="386.80" stroke="#000" stroke-width="1.9" stroke-linecap="round"/>
<line x1="116.6" x2="126.3" y1="287.20" y2="287.20" stroke="#000" stroke-width="1.9" stroke-linecap="round"/>
<line x1="116.6" x2="126.3" y1="187.60" y2="187.60" stroke="#000" stroke-width="1.9" stroke-linecap="round"/>
<line x1="116.6" x2="126.3" y1="88.00" y2="88.00" stroke="#000" stroke-width="1.9" stroke-linecap="round"/>
<line x1="295.50" x2="295.50" y1="403.05" y2="413.4" stroke="#000" stroke-width="1.9" stroke-linecap="round"/>
<line x1="449.10" x2="449.10" y1="403.05" y2="413.4" stroke="#000" stroke-width="1.9" stroke-linecap="round"/>
<line x1="602.70" x2="602.70" y1="403.05" y2="413.4" stroke="#000" stroke-width="1.9" stroke-linecap="round"/>
<line x1="756.30" x2="756.30" y1="403.05" y2="413.4" stroke="#000" stroke-width="1.9" stroke-linecap="round"/>
<text transform="translate(219.8,59.9) scale(1,1.04)" font-size="36.19" fill="#1f2d58" text-anchor="start" stroke="#1f2d58" stroke-width="0.5">Unemployment Rate in Carter&#160;&#160;County, MT</text>
<text transform="translate(110.3,101.1) scale(1,1.04)" font-size="31" fill="#000" text-anchor="end"  stroke="#000" stroke-width="0.45">15</text>
<text transform="translate(110.3,200.7) scale(1,1.04)" font-size="31" fill="#000" text-anchor="end"  stroke="#000" stroke-width="0.45">10</text>
<text transform="translate(110.3,300.3) scale(1,1.04)" font-size="31" fill="#000" text-anchor="end"  stroke="#000" stroke-width="0.45">5</text>
<text transform="translate(110.3,399.9) scale(1,1.04)" font-size="31" fill="#000" text-anchor="end"  stroke="#000" stroke-width="0.45">0</text>
<text transform="translate(295.50,443.4) scale(1,1.04)" font-size="31.2" fill="#000" text-anchor="middle"  stroke="#000" stroke-width="0.45">Jan-05</text>
<text transform="translate(449.10,443.4) scale(1,1.04)" font-size="31.2" fill="#000" text-anchor="middle"  stroke="#000" stroke-width="0.45">Jan-10</text>
<text transform="translate(602.70,443.4) scale(1,1.04)" font-size="31.2" fill="#000" text-anchor="middle"  stroke="#000" stroke-width="0.45">Jan-15</text>
<text transform="translate(756.30,443.4) scale(1,1.04)" font-size="31.2" fill="#000" text-anchor="middle"  stroke="#000" stroke-width="0.45">Jan-20</text>
<text transform="translate(56.4,289.5) rotate(-90) scale(1,1.04)" font-size="31.2" dx="-2.56" stroke="#000" stroke-width="0.45">Percent</text>
<text transform="translate(402.9,502.7) scale(1,1.04)" font-size="28.5" fill="#000" text-anchor="start"  stroke="#000" stroke-width="0.45">Monthly: Through Jun-25</text>
<rect x="352.4" y="524.4" width="419.5" height="133.5" fill="#fff" stroke="#000" stroke-width="1.9"/>
<line x1="362" x2="458.4" y1="549.7" y2="549.7" stroke="#1a476f" stroke-width="10"/>
<line x1="362" x2="458.4" y1="590.9" y2="590.9" stroke="#90353b" stroke-width="5.6"/>
<line x1="362" x2="458.4" y1="632.3" y2="632.3" stroke="#55752f" stroke-width="5.6"/>
<text transform="translate(473.9,563.0) scale(1,1.04)" font-size="31.0" fill="#000" text-anchor="start"  stroke="#000" stroke-width="0.45">Carter&#160;&#160;County (1.4)</text>
<text transform="translate(472.6,604.2) scale(1,1.04)" font-size="31.1" fill="#000" text-anchor="start"  stroke="#000" stroke-width="0.45">Montana (2.8)</text>
<text transform="translate(472.8,644.4) scale(1,1.04)" font-size="31.1" fill="#000" text-anchor="start"  stroke="#000" stroke-width="0.45">United States (4.1)</text>
<text transform="translate(922.3,299.8) scale(1,1.04)" font-size="35.7" fill="#000" text-anchor="start" letter-spacing="0.6" stroke="#000" stroke-width="0.45">4.1</text>
<text transform="translate(926.0,345.8) scale(1,1.04)" font-size="36.2" fill="#000" text-anchor="start"  stroke="#000" stroke-width="0.45">2.8</text>
<text transform="translate(922.6,391.8) scale(1,1.04)" font-size="36.0" fill="#000" text-anchor="start"  stroke="#000" stroke-width="0.45">1.4</text>
<text transform="translate(130.1,688.8) scale(1,1.04)" font-size="20.72" fill="#000" text-anchor="start"  stroke="#000" stroke-width="0.45">Source: U.S. Bureau of Labor Statistics, Seasonally Adjusted</text>
<text transform="translate(130.7,709.8) scale(1,1.04)" font-size="20.68" fill="#000" text-anchor="start"  stroke="#000" stroke-width="0.45">Produced by: National Economic Education Delegation (www.NEEDelegation.org)</text>
</svg>
</body></html>
